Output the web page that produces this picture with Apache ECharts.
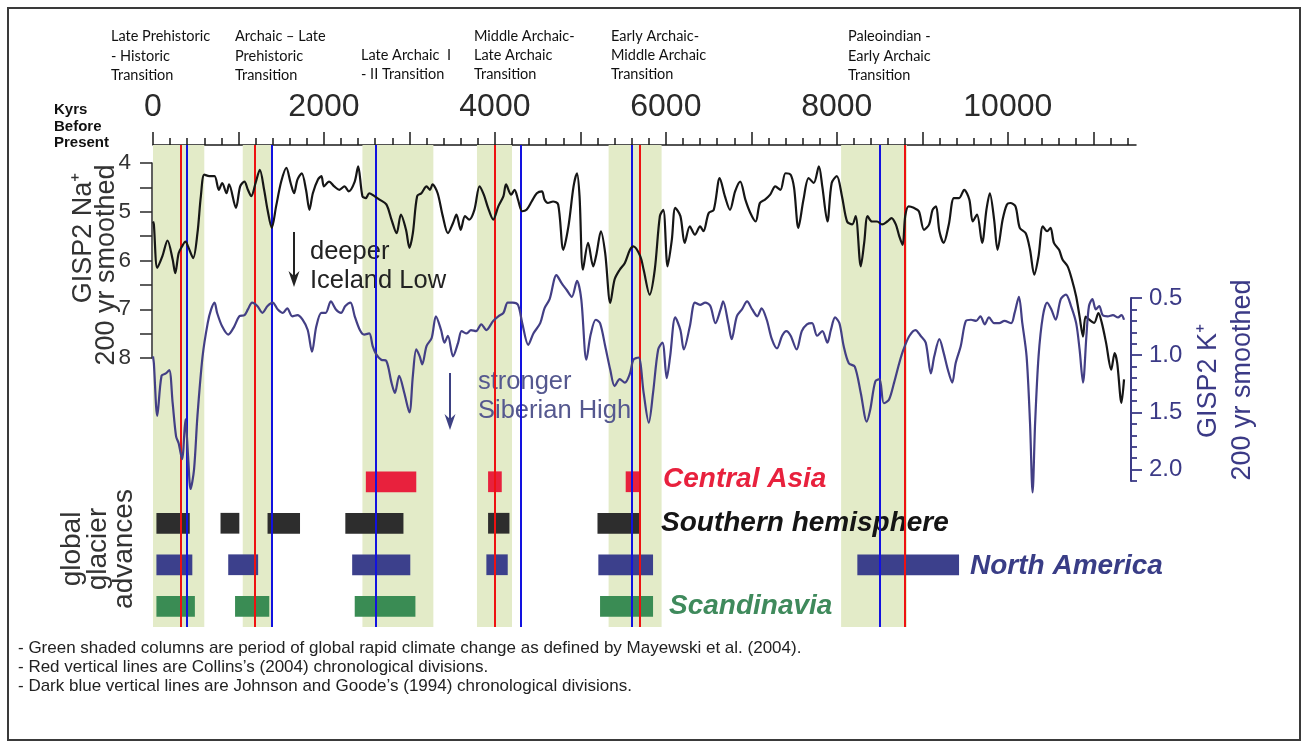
<!DOCTYPE html>
<html>
<head>
<meta charset="utf-8">
<title>GISP2 Na+ and K+ records with glacier advances and chronological divisions</title>
<script src="https://cdn.jsdelivr.net/npm/echarts@6/dist/echarts.min.js"></script>
<style>
  html, body { margin: 0; padding: 0; background: #ffffff; }
  #chart { width: 1306px; height: 745px; }
</style>
</head>
<body>
<div id="chart"></div>
<script>
// ---- Axis ticks (years before present) ----
const majorTickYears = [0, 1000, 2000, 3000, 4000, 5000, 6000, 7000, 8000, 9000, 10000, 11000];
const labelYears = [0, 2000, 4000, 6000, 8000, 10000];
const minorTickYears = [200, 400, 600, 800, 1200, 1400, 1600, 1800, 2200, 2400, 2600, 2800,
  3200, 3400, 3600, 3800, 4200, 4400, 4600, 4800, 5200, 5400, 5600, 5800, 6200, 6400, 6600, 6800,
  7200, 7400, 7600, 7800, 8200, 8400, 8600, 8800, 9200, 9400, 9600, 9800, 10200, 10400, 10600, 10800,
  11200, 11400];
const naTicks = [4, 4.5, 5, 5.5, 6, 6.5, 7, 7.5, 8];
const naLabels = [4, 5, 6, 7, 8];
const kMajorTicks = [0.5, 1.0, 1.5, 2.0];
const kMinorTicks = [0.6, 0.7, 0.8, 0.9, 1.1, 1.2, 1.3, 1.4, 1.6, 1.7, 1.8, 1.9, 2.1];

// ---- GISP2 Na+ (200 yr smoothed): [years BP, value] ----
const naRecord = [
  [0,5.20],[10,5.26],[50,6.15],[110,5.91],[170,5.59],[230,5.98],[260,6.26],[300,5.85],[340,5.71],[380,5.61],
  [410,5.71],[470,5.95],[520,5.44],[560,4.68],[600,4.24],[660,4.27],[720,4.27],[770,4.55],[810,4.41],[860,4.62],
  [890,4.44],[970,4.92],[1020,4.48],[1070,4.38],[1110,4.55],[1150,4.68],[1200,4.41],[1250,4.14],[1300,4.55],[1340,4.96],
  [1390,5.33],[1440,4.89],[1500,4.38],[1560,4.10],[1610,4.41],[1650,4.62],[1690,4.34],[1740,4.21],[1790,4.55],[1830,4.96],
  [1870,4.62],[1930,4.34],[1970,4.27],[2000,4.48],[2060,4.38],[2120,4.48],[2180,4.55],[2240,4.48],[2290,4.58],[2360,4.38],
  [2400,4.07],[2450,4.68],[2490,4.72],[2530,4.62],[2590,4.68],[2650,4.75],[2730,4.85],[2790,5.16],[2850,5.44],[2900,5.06],
  [2960,5.37],[3000,5.74],[3040,5.44],[3090,4.68],[3140,4.62],[3200,4.48],[3240,4.55],[3270,4.44],[3330,4.62],[3390,5.09],
  [3450,5.44],[3510,5.23],[3550,5.06],[3600,5.37],[3650,5.09],[3700,5.16],[3760,4.96],[3820,4.48],[3870,4.65],[3920,4.92],
  [3980,5.16],[4040,4.89],[4100,4.68],[4130,4.44],[4190,4.65],[4230,4.55],[4270,4.75],[4320,4.99],[4370,4.96],[4430,4.79],
  [4490,4.62],[4550,4.58],[4580,4.75],[4620,4.82],[4680,4.79],[4740,4.85],[4800,5.78],[4860,5.30],[4920,4.48],[4960,4.21],
  [4990,4.68],[5030,6.19],[5090,5.64],[5150,6.12],[5190,5.85],[5240,5.40],[5290,5.85],[5350,6.87],[5400,6.39],[5460,6.19],
  [5520,6.05],[5580,5.78],[5620,5.71],[5700,5.91],[5740,6.19],[5810,6.70],[5870,6.19],[5930,5.09],[5970,4.96],[6020,6.12],
  [6070,5.57],[6110,4.92],[6170,5.09],[6220,5.64],[6280,5.30],[6340,5.47],[6400,5.30],[6440,5.40],[6500,5.03],[6560,4.96],
  [6630,4.31],[6690,4.68],[6750,4.96],[6810,4.58],[6870,4.38],[6930,4.75],[6990,5.03],[7050,5.20],[7100,4.82],[7160,4.75],
  [7220,4.65],[7280,4.48],[7340,4.55],[7400,4.21],[7460,4.24],[7500,4.51],[7550,5.33],[7610,4.75],[7670,4.31],[7730,4.41],
  [7790,4.07],[7830,4.48],[7890,5.20],[7940,4.41],[8000,4.27],[8060,4.68],[8120,5.20],[8180,5.26],[8220,5.09],[8280,6.12],
  [8320,5.64],[8360,5.09],[8410,5.20],[8470,5.20],[8530,5.26],[8590,5.20],[8640,5.13],[8690,5.26],[8730,5.50],[8770,5.68],
  [8800,5.09],[8840,4.89],[8900,4.92],[8960,4.99],[9020,5.37],[9080,5.26],[9120,4.96],[9160,4.89],[9200,5.40],[9250,5.64],
  [9310,5.26],[9370,4.72],[9430,4.72],[9490,4.55],[9550,4.75],[9590,5.20],[9640,5.06],[9700,5.64],[9750,4.96],[9790,4.62],
  [9840,5.16],[9880,5.78],[9940,5.16],[9990,4.85],[10030,4.82],[10090,4.89],[10140,5.33],[10210,5.44],[10260,5.78],[10310,6.29],
  [10360,5.91],[10410,5.30],[10460,5.40],[10500,5.33],[10540,5.64],[10600,5.78],[10640,5.98],[10700,6.12],[10750,6.39],[10800,6.74],
  [10840,7.15],[10880,7.56],[10910,7.15],[10950,7.21],[11010,7.28],[11060,7.08],[11100,7.28],[11150,7.69],[11210,8.24],[11250,7.90],
  [11280,8.10],[11330,8.92],[11360,8.44]
];

// ---- GISP2 K+ (200 yr smoothed): [years BP, value] ----
const kRecord = [
  [0,1.01],[10,1.07],[50,1.53],[100,1.18],[150,1.16],[190,1.13],[230,1.42],[270,1.71],[300,1.77],[340,1.91],
  [380,1.56],[410,1.88],[440,2.17],[480,2.00],[520,1.53],[580,1.01],[640,0.72],[680,0.60],[720,0.54],[750,0.63],
  [810,0.75],[880,0.82],[950,0.75],[1010,0.66],[1070,0.65],[1110,0.60],[1160,0.54],[1220,0.57],[1280,0.63],[1340,0.57],
  [1400,0.54],[1460,0.60],[1520,0.63],[1570,0.59],[1630,0.66],[1690,0.65],[1750,0.69],[1810,0.78],[1860,0.97],[1910,0.75],
  [1970,0.63],[2020,0.63],[2080,0.53],[2140,0.60],[2200,0.63],[2250,0.57],[2310,0.54],[2360,0.66],[2420,0.78],[2470,0.82],
  [2530,0.81],[2570,0.92],[2610,0.99],[2670,1.04],[2730,1.05],[2790,1.24],[2830,1.33],[2880,1.18],[2940,1.33],[3000,1.50],
  [3040,1.18],[3080,0.95],[3120,1.01],[3150,1.08],[3200,0.92],[3260,0.85],[3310,0.66],[3370,0.78],[3410,0.89],[3450,0.83],
  [3510,1.01],[3570,0.89],[3610,0.79],[3670,0.81],[3720,0.78],[3780,0.79],[3840,0.73],[3900,0.78],[3980,0.70],[4040,0.66],
  [4100,0.63],[4150,0.54],[4210,0.54],[4270,0.56],[4320,0.72],[4390,0.91],[4450,0.81],[4530,0.72],[4580,0.59],[4640,0.51],
  [4720,0.30],[4780,0.37],[4840,0.43],[4900,0.49],[4960,0.35],[5010,0.51],[5070,1.04],[5120,0.82],[5180,0.69],[5230,0.72],
  [5290,0.92],[5350,1.13],[5400,1.27],[5460,1.21],[5520,1.24],[5580,1.16],[5620,1.04],[5680,1.02],[5740,1.33],[5800,1.59],
  [5850,1.33],[5910,0.95],[5960,0.89],[6010,1.20],[6050,1.01],[6110,0.67],[6170,0.78],[6210,0.95],[6280,0.75],[6340,0.54],
  [6400,0.56],[6460,0.54],[6520,0.57],[6580,0.72],[6640,0.60],[6670,0.53],[6730,0.72],[6770,0.86],[6830,0.66],[6890,0.60],
  [6950,0.53],[7010,0.60],[7070,0.66],[7120,0.59],[7180,0.69],[7240,0.86],[7300,0.94],[7360,0.83],[7410,0.79],[7460,0.83],
  [7530,0.95],[7590,0.79],[7650,0.73],[7710,0.72],[7770,0.83],[7830,0.79],[7890,0.89],[7930,0.78],[7980,0.67],[8030,0.72],
  [8080,0.92],[8140,1.07],[8210,1.10],[8280,1.33],[8350,1.58],[8390,1.48],[8450,1.23],[8500,1.21],[8550,1.42],[8610,1.39],
  [8670,1.24],[8730,1.07],[8780,0.95],[8850,0.83],[8920,0.78],[8980,0.83],[9040,0.89],[9100,1.16],[9140,1.01],[9200,0.86],
  [9250,0.98],[9300,1.13],[9350,1.24],[9390,1.07],[9450,0.92],[9510,0.70],[9570,0.69],[9630,0.70],[9680,0.66],[9730,0.73],
  [9780,0.67],[9840,0.72],[9900,0.72],[9960,0.70],[10040,0.72],[10080,0.63],[10130,0.49],[10170,0.72],[10220,1.01],[10260,1.59],
  [10290,2.20],[10320,1.59],[10360,1.01],[10410,0.66],[10460,0.54],[10510,0.60],[10560,0.69],[10620,0.51],[10680,0.47],[10740,0.57],
  [10800,0.72],[10840,0.95],[10880,1.24],[10920,0.83],[10950,0.57],[10990,0.51],[11030,0.60],[11070,0.57],[11110,0.65],[11170,0.66],
  [11230,0.65],[11290,0.67],[11330,0.65],[11360,0.69]
];

// ---- Rapid climate change periods (Mayewski et al. 2004), years BP ----
const rccPeriods = [[0, 600], [1050, 1400], [2450, 3280], [3790, 4200], [5330, 5950], [8050, 8820]];

// ---- Chronological divisions, years BP ----
const collinsDivisions = [325, 1190, 4000, 5700, 8790];
const johnsonGoodeDivisions = [390, 1390, 2605, 4300, 5605, 8500];

// ---- Global glacier advances: [start BP, end BP] per region ----
const glacierRegions = ['Central Asia', 'Southern hemisphere', 'North America', 'Scandinavia'];
const centralAsia = [[2490, 3080], [3920, 4080], [5530, 5690]];
const southernHemisphere = [[40, 430], [790, 1010], [1340, 1720], [2250, 2930], [3920, 4170], [5200, 5690]];
const northAmerica = [[40, 460], [880, 1230], [2330, 3010], [3900, 4150], [5210, 5850], [8240, 9430]];
const scandinavia = [[40, 490], [960, 1360], [2360, 3070], [5230, 5850]];

// ---- Transition names shown above the axis ----
const transitionNames = [
  'Late Prehistoric\n- Historic\nTransition',
  'Archaic \u2013 Late\nPrehistoric\nTransition',
  'Late Archaic  I\n- II Transition',
  'Middle Archaic-\nLate Archaic\nTransition',
  'Early Archaic-\nMiddle Archaic\nTransition',
  'Paleoindian -\nEarly Archaic\nTransition'
];

const notes = [
  '- Green shaded columns are period of global rapid climate change as defined by Mayewski et al. (2004).',
  '- Red vertical lines are Collins\u2019s (2004) chronological divisions.',
  '- Dark blue vertical lines are Johnson and Goode\u2019s (1994) chronological divisions.'
];

// ---------------------------------------------------------------------------
const FONT = '"Liberation Sans", Arial, sans-serif';
const X_MIN = 0, X_MAX = 11500;
const GRID_L = 153, GRID_R = 170;
const K_COLOR = '#3b3a86';
const rowColors = ['#e8213d', '#2d2d2d', '#3c408c', '#3a8c54'];
const rowTextColors = ['#e8213d', '#151515', '#393d86', '#3f8a5c'];

const glacierData = [];
[centralAsia, southernHemisphere, northAmerica, scandinavia].forEach((list, row) => {
  list.forEach(([a, b]) => glacierData.push([a, b, row]));
});

function hiddenX(gridIndex) {
  return { gridIndex, type: 'value', min: X_MIN, max: X_MAX, show: false, axisLine: { onZero: false } };
}

const chart = echarts.init(document.getElementById('chart'), null, { renderer: 'canvas' });

const texts = [];
function addText(x, y, text, style, extra) {
  texts.push(Object.assign({
    type: 'text', x, y, z: 3,
    style: Object.assign({ text, fill: '#222', fontFamily: FONT, fontSize: 14 }, style)
  }, extra || {}));
}

// Transition names
const transitionPos = [[111, 27], [235, 27], [361, 45.5], [474, 26.5], [611, 26.5], [848, 27]];
transitionNames.forEach((t, i) => {
  addText(transitionPos[i][0], transitionPos[i][1], t,
    { fontFamily: 'Lato, "Open Sans", sans-serif', fontSize: 14.5, lineHeight: 19.3, fill: '#111', verticalAlign: 'top' });
});

// Axis caption at top-left
addText(54, 102, 'Kyrs\nBefore\nPresent',
  { fontWeight: 'bold', fontSize: 15, lineHeight: 16.5, fill: '#111', verticalAlign: 'top' });

// Left and right axis titles (vertical)
const rot = Math.PI / 2;
const vCenter = { align: 'center', verticalAlign: 'middle' };
addText(84, 238, 'GISP2 Na\u207A', Object.assign({ fontSize: 27, fill: '#333' }, vCenter), { rotation: rot });
addText(107, 265, '200 yr smoothed', Object.assign({ fontSize: 27, fill: '#333' }, vCenter), { rotation: rot });
addText(1209, 381, 'GISP2 K\u207A', Object.assign({ fontSize: 27, fill: K_COLOR }, vCenter), { rotation: rot });
addText(1243, 380, '200 yr smoothed', Object.assign({ fontSize: 27, fill: K_COLOR }, vCenter), { rotation: rot });

// Glacier panel title
addText(72, 549, 'global', Object.assign({ fontSize: 28, fill: '#333' }, vCenter), { rotation: rot });
addText(98, 549, 'glacier', Object.assign({ fontSize: 28, fill: '#333' }, vCenter), { rotation: rot });
addText(124, 549, 'advances', Object.assign({ fontSize: 28, fill: '#333' }, vCenter), { rotation: rot });

// Curve annotations
addText(310, 252, 'deeper', { fontSize: 25.5, fill: '#222', verticalAlign: 'middle' });
addText(310, 281, 'Iceland Low', { fontSize: 25.5, fill: '#222', verticalAlign: 'middle' });
addText(478, 382, 'stronger', { fontSize: 25.5, fill: '#55588f', verticalAlign: 'middle' });
addText(478, 411, 'Siberian High', { fontSize: 25.5, fill: '#55588f', verticalAlign: 'middle' });

// Glacier region names
const regionLabelPos = [[663, 479], [661, 523], [970, 566], [669, 606]];
glacierRegions.forEach((name, i) => {
  addText(regionLabelPos[i][0], regionLabelPos[i][1], name, {
    fontSize: 28, fontWeight: 'bold', fontStyle: 'italic', fill: rowTextColors[i], verticalAlign: 'middle'
  });
});

// Notes below the chart
notes.forEach((n, i) => {
  addText(18, 648 + i * 19, n, { fontSize: 17, fill: '#222', verticalAlign: 'middle' });
});

// Arrows
const arrows = [
  { x: 294, y1: 232, y2: 287, color: '#222' },
  { x: 450, y1: 373, y2: 430, color: '#3d4183' }
];
const arrowEls = [];
arrows.forEach(a => {
  arrowEls.push({ type: 'line', z: 3, shape: { x1: a.x, y1: a.y1, x2: a.x, y2: a.y2 - 10 }, style: { stroke: a.color, lineWidth: 2 } });
  arrowEls.push({ type: 'polygon', z: 3, shape: { points: [[a.x - 5.5, a.y2 - 16], [a.x, a.y2 - 11], [a.x + 5.5, a.y2 - 16], [a.x, a.y2]] }, style: { fill: a.color } });
});

const option = {
  animation: false,
  backgroundColor: '#ffffff',
  grid: [
    { left: GRID_L, right: GRID_R, top: 145, bottom: 118 },   // shading, divisions, top axis
    { left: GRID_L, right: GRID_R, top: 163, height: 195 },   // Na+ (4-8)
    { left: GRID_L, right: GRID_R, top: 298, height: 183 },   // K+ (0.5-2.1)
    { left: GRID_L, right: GRID_R, top: 461, height: 166 }    // glacier rows
  ],
  xAxis: [
    {
      gridIndex: 0, type: 'value', position: 'top', min: X_MIN, max: X_MAX, interval: 1000,
      axisLine: { show: true, onZero: false, lineStyle: { color: '#1a1a1a', width: 1.5 } },
      axisTick: { show: true, customValues: majorTickYears, length: 13, lineStyle: { color: '#1a1a1a', width: 1.5 } },
      axisLabel: { customValues: labelYears, fontSize: 32, color: '#2a2a2a', margin: 22, fontFamily: FONT,
        formatter: v => String(v) },
      splitLine: { show: false }
    },
    {
      gridIndex: 0, type: 'value', position: 'top', min: X_MIN, max: X_MAX, interval: 200,
      axisLine: { show: false, onZero: false },
      axisTick: { show: true, customValues: minorTickYears, length: 7, lineStyle: { color: '#1a1a1a', width: 1.5 } },
      axisLabel: { show: false },
      splitLine: { show: false }
    },
    hiddenX(1), hiddenX(2), hiddenX(3)
  ],
  yAxis: [
    { gridIndex: 0, type: 'value', min: 0, max: 1, show: false, axisLine: { onZero: false } },
    {
      gridIndex: 1, type: 'value', position: 'left', offset: 1, inverse: true, min: 4, max: 8, interval: 0.5,
      axisLine: { show: true, onZero: false, lineStyle: { color: '#2a2a2a', width: 1.5 } },
      axisTick: { show: true, customValues: naTicks, length: 12, lineStyle: { color: '#2a2a2a', width: 1.5 } },
      axisLabel: { customValues: naLabels, fontSize: 22.5, color: '#333', margin: 21, fontFamily: FONT },
      splitLine: { show: false }
    },
    {
      gridIndex: 2, type: 'value', position: 'right', offset: -5, inverse: true, min: 0.5, max: 2.1, interval: 0.5,
      axisLine: { show: true, onZero: false, lineStyle: { color: K_COLOR, width: 2 } },
      axisTick: { show: true, customValues: kMajorTicks, length: 11, lineStyle: { color: K_COLOR, width: 1.8 } },
      axisLabel: { customValues: kMajorTicks, fontSize: 24, color: K_COLOR, margin: 18, fontFamily: FONT,
        formatter: v => Number(v).toFixed(1) },
      splitLine: { show: false }
    },
    {
      gridIndex: 2, type: 'value', position: 'right', offset: -5, inverse: true, min: 0.5, max: 2.1, interval: 0.1,
      axisLine: { show: false, onZero: false },
      axisTick: { show: true, customValues: kMinorTicks, length: 6, lineStyle: { color: K_COLOR, width: 1.8 } },
      axisLabel: { show: false },
      splitLine: { show: false }
    },
    { gridIndex: 3, type: 'category', data: glacierRegions, inverse: true, show: false, axisLine: { onZero: false } }
  ],
  graphic: {
    elements: [
      { type: 'rect', z: 0, shape: { x: 8, y: 8, width: 1292, height: 732 }, style: { fill: null, stroke: '#3a3a3a', lineWidth: 2 } }
    ].concat(texts, arrowEls)
  },
  series: [
    {
      name: 'RCC periods', type: 'line', xAxisIndex: 0, yAxisIndex: 0, data: [], z: 1, silent: true,
      markArea: {
        silent: true,
        itemStyle: { color: '#e3ebc8' },
        data: rccPeriods.map(([a, b]) => [{ xAxis: a }, { xAxis: b }])
      }
    },
    {
      name: 'Glacier advances', type: 'custom', xAxisIndex: 4, yAxisIndex: 4, z: 3, silent: true,
      encode: { x: [0, 1], y: 2 },
      data: glacierData,
      renderItem: function (params, api) {
        const row = api.value(2);
        const s = api.coord([api.value(0), row]);
        const e = api.coord([api.value(1), row]);
        const h = api.size([0, 1])[1] * 0.5;
        return {
          type: 'rect',
          shape: { x: s[0], y: s[1] - h / 2, width: e[0] - s[0], height: h },
          style: { fill: rowColors[row] }
        };
      }
    },
    {
      name: 'GISP2 Na+', type: 'line', xAxisIndex: 2, yAxisIndex: 1, data: naRecord, z: 5,
      showSymbol: false, smooth: 0.3, clip: false,
      lineStyle: { color: '#161616', width: 2.2 }
    },
    {
      name: 'GISP2 K+', type: 'line', xAxisIndex: 3, yAxisIndex: 2, data: kRecord, z: 5,
      showSymbol: false, smooth: 0.3, clip: false,
      lineStyle: { color: '#433f85', width: 2.2 }
    },
    {
      name: 'Divisions', type: 'line', xAxisIndex: 0, yAxisIndex: 0, data: [], z: 8, silent: true,
      markLine: {
        silent: true, symbol: ['none', 'none'], label: { show: false },
        data: collinsDivisions.map(v => ({ xAxis: v, lineStyle: { color: '#ee1111', width: 2, type: 'solid' } }))
          .concat(johnsonGoodeDivisions.map(v => ({ xAxis: v, lineStyle: { color: '#1212e0', width: 2, type: 'solid' } })))
      }
    }
  ]
};

chart.setOption(option);
</script>
</body>
</html>
